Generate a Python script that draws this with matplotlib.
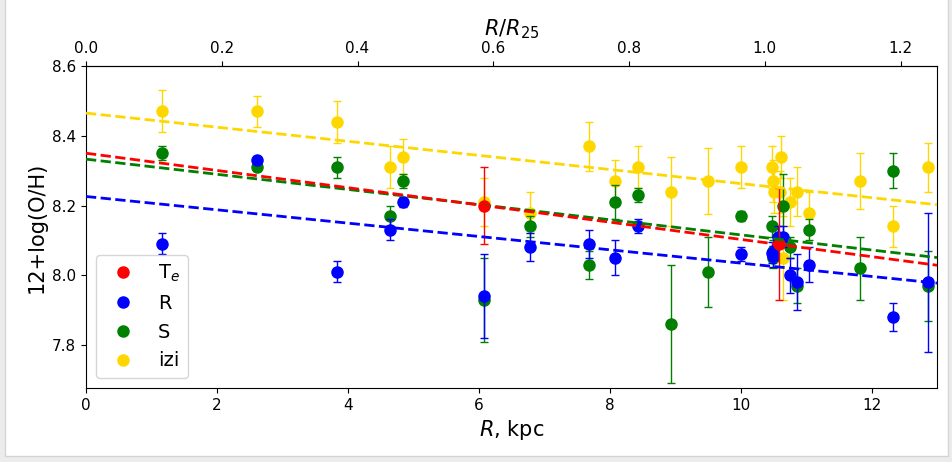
import numpy as np
import matplotlib.pyplot as plt
from matplotlib.lines import Line2D
from matplotlib.patches import Rectangle

R25 = 10.37  # kpc

# T_e method
te_r = [6.08, 10.58]
te_oh = [8.20, 8.09]
te_err = [0.11, 0.16]

# R calibration
r_r = [1.16, 2.61, 3.83, 4.64, 4.84, 6.08, 6.79, 7.69, 8.08, 8.44,
       10.00, 10.48, 10.50, 10.57, 10.64, 10.75, 10.86, 11.05, 12.33, 12.86]
r_oh = [8.09, 8.33, 8.01, 8.13, 8.21, 7.94, 8.08, 8.09, 8.05, 8.14,
        8.06, 8.065, 8.055, 8.11, 8.11, 8.00, 7.98, 8.03, 7.88, 7.98]
r_err = [0.03, 0.01, 0.03, 0.03, 0.015, 0.12, 0.04, 0.04, 0.05, 0.02,
         0.02, 0.03, 0.03, 0.03, 0.03, 0.05, 0.08, 0.05, 0.04, 0.20]

# S calibration
s_r = [1.16, 2.61, 3.83, 4.64, 4.84, 6.08, 6.79, 7.69, 8.08, 8.44, 8.94, 9.50,
       10.00, 10.48, 10.50, 10.49, 10.65, 10.75, 10.86, 11.05, 11.82, 12.33, 12.86]
s_oh = [8.35, 8.31, 8.31, 8.17, 8.27, 7.93, 8.14, 8.03, 8.21, 8.23, 7.86, 8.01,
        8.17, 8.14, 8.07, 8.05, 8.20, 8.08, 7.97, 8.13, 8.02, 8.30, 7.97]
s_err = [0.02, 0.01, 0.03, 0.03, 0.02, 0.12, 0.03, 0.04, 0.05, 0.02, 0.17, 0.10,
         0.015, 0.03, 0.03, 0.03, 0.09, 0.03, 0.05, 0.03, 0.09, 0.05, 0.10]

# izi
izi_r = [1.16, 2.61, 3.83, 4.64, 4.84, 6.08, 6.79, 7.69, 8.08, 8.44, 8.94, 9.50,
         10.00, 10.48, 10.50, 10.51, 10.60, 10.62, 10.65, 10.75, 10.86, 11.05,
         11.82, 12.33, 12.86]
izi_oh = [8.47, 8.47, 8.44, 8.31, 8.34, 8.21, 8.18, 8.37, 8.27, 8.31, 8.24, 8.27,
          8.31, 8.31, 8.27, 8.24, 8.24, 8.34, 8.05, 8.21, 8.24, 8.18,
          8.27, 8.14, 8.31]
izi_err = [0.06, 0.045, 0.06, 0.06, 0.05, 0.07, 0.06, 0.07, 0.06, 0.06, 0.10, 0.095,
           0.06, 0.06, 0.06, 0.06, 0.06, 0.06, 0.12, 0.07, 0.07, 0.06,
           0.08, 0.06, 0.07]

# linear gradients: (12+log(O/H) at R=0, slope per kpc)
fit_te = (8.350, -0.0247)
fit_r = (8.226, -0.0191)
fit_s = (8.333, -0.0217)
fit_izi = (8.465, -0.0202)

fig = plt.figure(figsize=(9.53, 4.62), dpi=100)
fig.patch.set_facecolor("#ececec")
fig.patches.append(Rectangle((5 / 953, 6 / 462), 943 / 953, 1.0, transform=fig.transFigure,
                             facecolor="white", edgecolor="#d4d4d4", lw=1, zorder=-10))

ax = fig.add_axes([86 / 953, 1 - 388 / 462, 851 / 953, 322 / 462])

series = [
    (izi_r, izi_oh, izi_err, "gold", fit_izi),
    (s_r, s_oh, s_err, "green", fit_s),
    (r_r, r_oh, r_err, "blue", fit_r),
    (te_r, te_oh, te_err, "red", fit_te),
]

xx = np.array([0, 13])
for i, (x, y, e, c, fit) in enumerate(series):
    ax.errorbar(x, y, yerr=e, fmt="o", color=c, ms=8, elinewidth=1,
                capsize=3, capthick=1, zorder=2 + i)
for x, y, e, c, fit in series:
    ax.plot(xx, fit[0] + fit[1] * xx, "--", color=c, lw=2, zorder=7)

handles = [Line2D([], [], ls="", marker="o", ms=8, color=c)
           for c in ["red", "blue", "green", "gold"]]
ax.legend(handles, ["T$_e$", "R", "S", "izi"], loc="lower left", fontsize=14)

ax.set_xlim(0, 13)
ax.set_ylim(7.677, 8.6)
ax.set_yticks([7.8, 8.0, 8.2, 8.4, 8.6])
ax.tick_params(labelsize=11)
ax.set_xlabel("$R$, kpc", fontsize=15)
ax.set_ylabel("12+log(O/H)", fontsize=15)

top = ax.secondary_xaxis("top", functions=(lambda r: r / R25, lambda q: q * R25))
top.set_xticks([0.0, 0.2, 0.4, 0.6, 0.8, 1.0, 1.2])
top.tick_params(labelsize=11)
top.set_xlabel("$R/R_{25}$", fontsize=15)

fig.savefig("out.png", dpi=100, facecolor=fig.get_facecolor())
